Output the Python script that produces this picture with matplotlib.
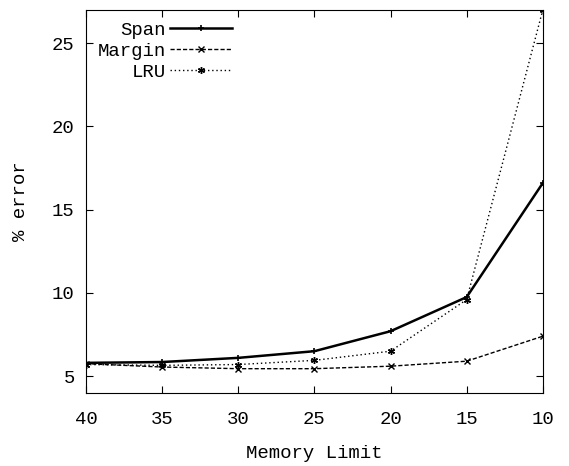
#Recreate the memory limit vs % error chart

import matplotlib
matplotlib.use('Agg')
import matplotlib.pyplot as plt

#Data
memory_limit = [40, 35, 30, 25, 20, 15, 10]
span = [5.8, 5.85, 6.1, 6.5, 7.7, 9.75, 16.6]
margin = [5.75, 5.55, 5.45, 5.45, 5.6, 5.9, 7.4]
lru = [5.7, 5.65, 5.7, 5.95, 6.5, 9.6, 27.0]

plt.rcParams['font.family'] = ['Liberation Mono', 'DejaVu Sans Mono']
plt.rcParams['font.size'] = 13.7

fig = plt.figure(figsize=(5.69, 4.66), dpi=100)
ax = fig.add_axes([0.151, 0.157, 0.803, 0.822])

#Plot series
ax.plot(memory_limit, span, color='black', linewidth=1.8, linestyle='-',
        marker='+', markersize=5, markeredgewidth=1.2, label='Span')
ax.plot(memory_limit, margin, color='black', linewidth=1.0, linestyle=(0, (3, 1.5)),
        marker='x', markersize=4, markeredgewidth=1.0, label='Margin')
ax.plot(memory_limit, lru, color='black', linewidth=1.0, linestyle=(0, (1, 2)),
        marker=(6, 2, 0), markersize=5, markeredgewidth=1.0, label='LRU')

#Axes setup
ax.set_xlim(40, 10)
ax.set_ylim(4, 27)
ax.set_xticks([40, 35, 30, 25, 20, 15, 10])
ax.set_yticks([5, 10, 15, 20, 25])
ax.tick_params(direction='in', top=True, right=True, length=5)
ax.tick_params(axis='x', pad=13)
ax.tick_params(axis='y', pad=8)
ax.set_xlabel("Memory Limit", labelpad=12)
ax.set_ylabel("% error")
ax.yaxis.set_label_coords(-0.125, 0.5)

#Legend
ax.legend(loc='upper left', frameon=False, markerfirst=False,
          handlelength=3.26, labelspacing=0.2, borderaxespad=0.0,
          handletextpad=0.2, bbox_to_anchor=(0.009, 0.99))

fig.savefig('out.png', dpi=100)
